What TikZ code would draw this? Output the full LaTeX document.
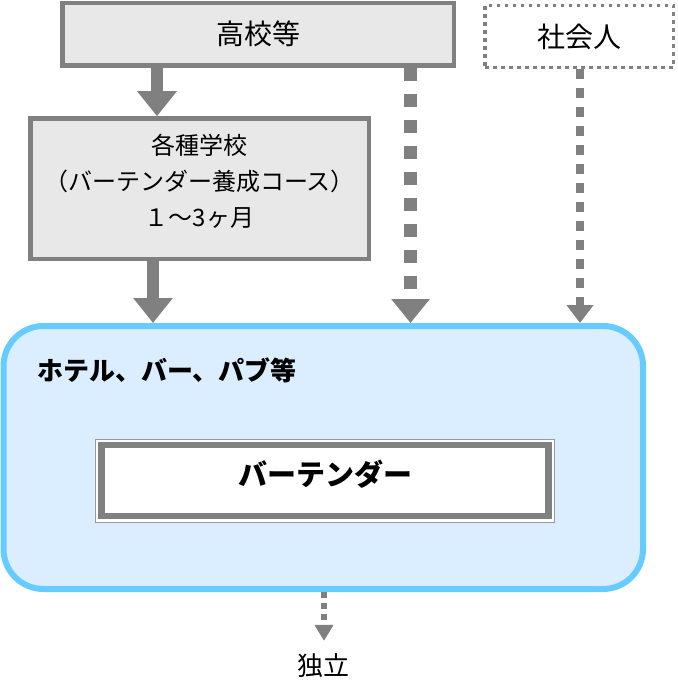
\documentclass[tikz,border=0pt]{standalone}
\usepackage{fontspec}
\setmainfont{Noto Sans CJK JP}
\usetikzlibrary{positioning,arrows.meta}
\definecolor{boxgray}{HTML}{808080}
\definecolor{boxfill}{HTML}{E8E8E8}
\definecolor{shopline}{HTML}{66CCFF}
\definecolor{shopfill}{HTML}{DBEEFF}

\begin{document}
\begin{tikzpicture}[x=1pt,y=-1pt]
			\tikzstyle{every node}+=[inner sep=0pt]
			\tikzstyle{graybox}=[rectangle, draw=boxgray, fill=boxfill, line width=4.5pt]
			\tikzstyle{dotbox}=[rectangle, draw=boxgray, line width=3.5pt, dash pattern=on 3.5pt off 4.5pt]
			\tikzstyle{bigarrow}=[draw=boxgray, line width=12.5pt, -{Triangle[width=38pt,length=25pt]}]
			\tikzstyle{dotarrow}=[draw=boxgray, line width=13pt, dash pattern=on 13pt off 13pt, -{Triangle[width=37pt,length=24pt]}]
			\tikzstyle{smallarrow}=[draw=boxgray, line width=8.5pt, dash pattern=on 9.5pt off 9.5pt, -{Triangle[width=26pt,length=18pt]}]
			\tikzstyle{tinyarrow}=[draw=boxgray, line width=6pt, dash pattern=on 6pt off 5pt, -{Triangle[width=18pt,length=16pt]}]
			\useasboundingbox (0,0) rectangle (677,695);
			% boxes
			\node [graybox, minimum width=391.5pt, minimum height=62.5pt, font=\fontsize{28}{34}\selectfont] (koukou) at (258.25,34.25) {高校等};
			\node [dotbox, minimum width=188.5pt, minimum height=62pt, font=\fontsize{28}{34}\selectfont] (shakai) at (579.25,36.5) {社会人};
			\node [graybox, minimum width=338.5pt, minimum height=140.5pt] (school) at (199.75,188.75) {};
			\node [align=center, font=\fontsize{24}{36}\selectfont] (schooltxt) at (199.5,181) {各種学校\\（バーテンダー養成コース）\\１～3ヶ月};
			\node [rectangle, rounded corners=40pt, draw=shopline, fill=shopfill, line width=6pt, minimum width=639.5pt, minimum height=263pt] (shop) at (323.25,457.5) {};
			\node [anchor=west, font=\fontsize{26}{30}\selectfont\bfseries] (shoptxt) at (37,370) {ホテル、バー、パブ等};
			\node [rectangle, draw=boxgray!80, fill=white, line width=1.5pt, minimum width=459pt, minimum height=83pt] (frame) at (325,481) {};
			\node [rectangle, draw=boxgray, fill=white, line width=6.7pt, minimum width=446.6pt, minimum height=71pt, text depth=15pt, font=\fontsize{29}{34}\selectfont\bfseries] (bartender) at (325,480.5) {バーテンダー};
			\node [font=\fontsize{26}{30}\selectfont] (dokuritsu) at (323.5,666) {独立};
			% arrows
			\coordinate (a1) at (157,0);
			\coordinate (a2) at (153,0);
			\coordinate (a3) at (410.5,0);
			\coordinate (a4) at (580,0);
			\coordinate (a5) at (324,0);
			\draw [bigarrow] (koukou.south -| a1) -- (school.north -| a1);
			\draw [bigarrow] (school.south -| a2) -- (shop.north -| a2);
			\draw [dotarrow] (koukou.south -| a3) -- (shop.north -| a3);
			\draw [smallarrow] (shakai.south -| a4) -- (shop.north -| a4);
			\draw [tinyarrow, shorten >=13pt] (shop.south -| a5) -- (dokuritsu.north -| a5);
\end{tikzpicture}
\end{document}
